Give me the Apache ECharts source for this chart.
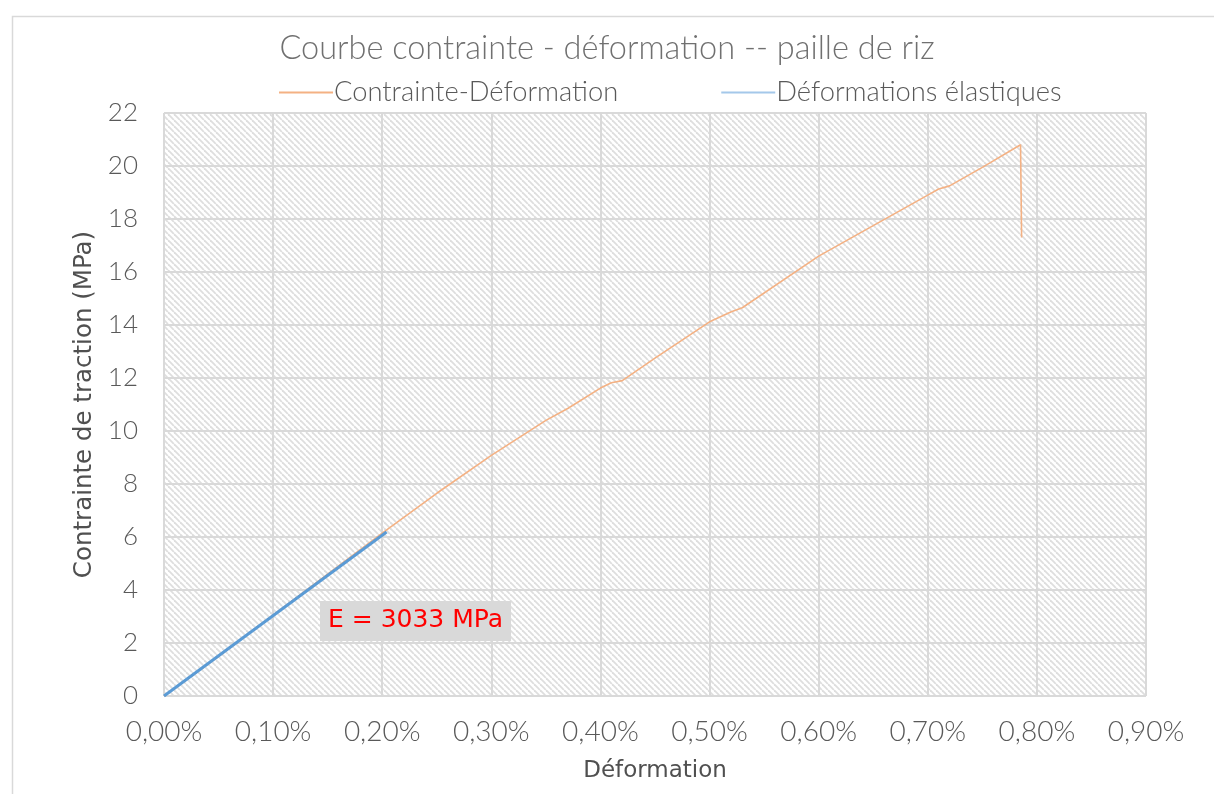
<!DOCTYPE html>
<html>
<head>
<meta charset="utf-8">
<script src="https://cdn.jsdelivr.net/npm/echarts@6/dist/echarts.min.js"></script>
<style>
  html, body { margin: 0; padding: 0; background: #fff; }
  #main { width: 1214px; height: 794px; }
</style>
</head>
<body>
<div id="main"></div>
<script>
// strain in %, stress in MPa
const strain = [0, 0.05, 0.10, 0.15, 0.20, 0.25, 0.30, 0.35, 0.37, 0.40, 0.41, 0.42, 0.45, 0.50, 0.52, 0.53, 0.60, 0.65, 0.70, 0.71, 0.72, 0.75, 0.785, 0.786];
const stress = [0, 1.5, 3.05, 4.6, 6.15, 7.65, 9.08, 10.4, 10.85, 11.62, 11.82, 11.9, 12.75, 14.12, 14.5, 14.65, 16.6, 17.75, 18.9, 19.13, 19.25, 19.95, 20.8, 17.3];
const elasticStrain = [0, 0.204];
const elasticStress = [0, 6.19];
const xTicks = [0, 0.1, 0.2, 0.3, 0.4, 0.5, 0.6, 0.7, 0.8, 0.9];
const yTicks = [0, 2, 4, 6, 8, 10, 12, 14, 16, 18, 20, 22];

const curve = strain.map((s, i) => [s, stress[i]]);
const elastic = elasticStrain.map((s, i) => [s, elasticStress[i]]);

// hatched plot background
const hatch = document.createElement('canvas');
hatch.width = 6; hatch.height = 6;
const hc = hatch.getContext('2d');
hc.fillStyle = '#ffffff';
hc.fillRect(0, 0, 6, 6);
hc.strokeStyle = '#dedede';
hc.lineWidth = 1.8;
[-6, 0, 6].forEach(k => {
  hc.beginPath();
  hc.moveTo(k, 0);
  hc.lineTo(k + 6, 6);
  hc.stroke();
});

const txt = '#595959';
const chart = echarts.init(document.getElementById('main'));
chart.setOption({
  animation: false,
  backgroundColor: '#fff',
  title: {
    text: 'Courbe contrainte - déformation -- paille de riz',
    left: 'center',
    top: 27,
    textStyle: { fontFamily: 'Lato', fontWeight: 300, fontSize: 32.5, color: '#707070' }
  },
  legend: {
    left: 274,
    top: 74,
    itemWidth: 54,
    itemHeight: 14,
    itemGap: 103,
    textStyle: { fontFamily: 'Lato', fontWeight: 300, fontSize: 27.3, color: txt, padding: [0, 0, 0, -4] },
    data: [
      { name: 'Contrainte-Déformation', icon: 'path://M0,0 L54,0 L54,2 L0,2 Z', itemStyle: { color: '#f4b183' } },
      { name: 'Déformations élastiques', icon: 'path://M0,0 L54,0 L54,2 L0,2 Z', itemStyle: { color: '#a4c8ea' } }
    ]
  },
  grid: {
    left: 164, right: 68, top: 113, bottom: 98,
    show: true,
    borderWidth: 0,
    backgroundColor: { image: hatch, repeat: 'repeat' }
  },
  xAxis: {
    type: 'value',
    min: 0, max: 0.9, interval: 0.1,
    name: 'Déformation',
    nameLocation: 'middle',
    nameGap: 64,
    nameTextStyle: { fontFamily: 'DejaVu Sans', fontSize: 23, color: '#505050' },
    axisLine: { show: false },
    axisTick: { show: false },
    axisLabel: {
      margin: 22,
      fontFamily: 'Lato', fontWeight: 300, fontSize: 28, color: txt,
      formatter: v => v.toFixed(2).replace('.', ',') + '%'
    },
    splitLine: { lineStyle: { color: '#d9d9d9', width: 2 } }
  },
  yAxis: {
    type: 'value',
    min: 0, max: 22, interval: 2,
    name: 'Contrainte de traction (MPa)',
    nameLocation: 'middle',
    nameGap: 64,
    nameTextStyle: { fontFamily: 'DejaVu Sans', fontSize: 24.5, color: '#505050' },
    axisLine: { show: false },
    axisTick: { show: false },
    axisLabel: { margin: 26, fontFamily: 'Lato', fontWeight: 300, fontSize: 26, color: txt },
    splitLine: { lineStyle: { color: '#d9d9d9', width: 2 } }
  },
  series: [
    {
      name: 'Contrainte-Déformation',
      type: 'line',
      data: curve,
      showSymbol: false,
      lineStyle: { color: '#f4b183', width: 1.6 },
      itemStyle: { color: '#f4b183' },
      z: 2
    },
    {
      name: 'Déformations élastiques',
      type: 'line',
      data: elastic,
      showSymbol: false,
      lineStyle: { color: '#5b9bd5', width: 3 },
      itemStyle: { color: '#5b9bd5' },
      z: 3
    }
  ],
  graphic: [
    {
      type: 'rect',
      left: 10, top: 14,
      shape: { width: 1230, height: 800 },
      style: { fill: 'none', stroke: '#d9d9d9', lineWidth: 1.5 },
      silent: true
    },
    {
      type: 'text',
      left: 320, top: 601,
      style: {
        text: 'E = 3033 MPa',
        fill: '#ff0000',
        font: '25px "DejaVu Sans"',
        backgroundColor: '#d9d9d9',
        padding: [7, 8, 8, 8]
      },
      z: 10
    }
  ]
});
</script>
</body>
</html>
